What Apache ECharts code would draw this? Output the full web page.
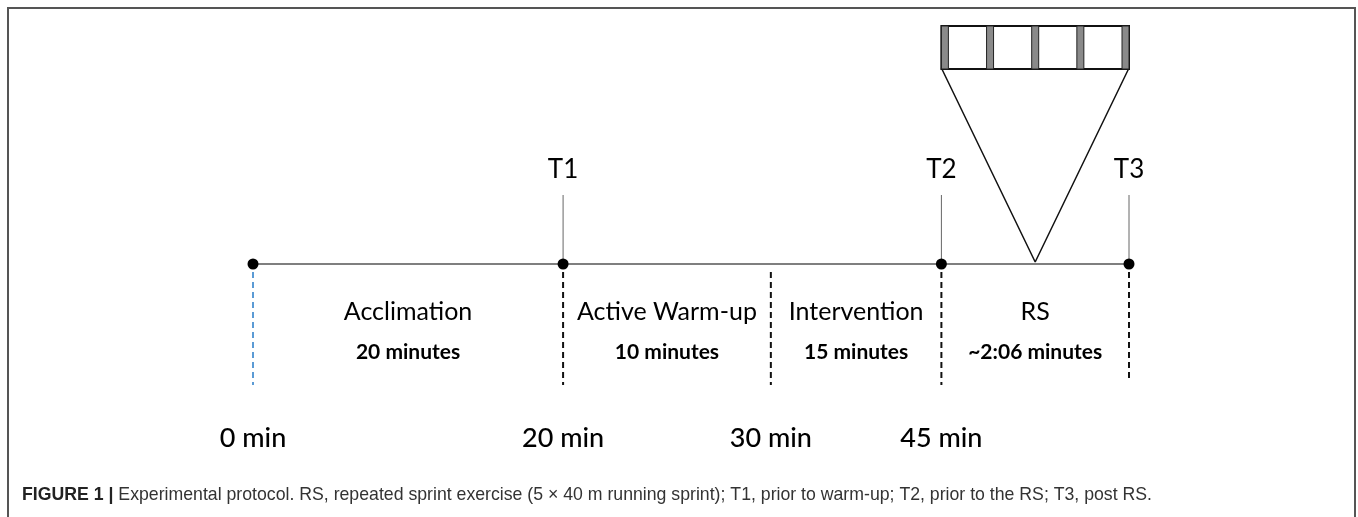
<!DOCTYPE html>
<html>
<head>
<meta charset="utf-8">
<script src="https://cdn.jsdelivr.net/npm/echarts@6/dist/echarts.min.js"></script>
<style>
  html, body { margin: 0; padding: 0; background: #fff; }
  #chart { width: 1358px; height: 517px; }
</style>
</head>
<body>
<div id="chart"></div>
<script>
// ---- data ----
const timeLabels = ['0 min', '20 min', '30 min', '45 min'];
const timeMinutes = [0, 20, 30, 45];
// position of each time mark along the (not-to-scale) schematic axis
const schematicPos = [0, 20, 33.4, 44.4];
const endPos = 56.5;                      // end of the repeated-sprint block (T3)
const phaseNames = ['Acclimation', 'Active Warm-up', 'Intervention', 'RS'];
const phaseDurations = ['20 minutes', '10 minutes', '15 minutes', '~2:06 minutes'];
const checkpoints = ['T1', 'T2', 'T3'];
const checkpointPos = [20, 44.4, 56.5];
const sprintCount = 5;
const captionBold = 'FIGURE 1 |';
const captionText = ' Experimental protocol. RS, repeated sprint exercise (5 \u00d7 40 m running sprint); T1, prior to warm-up; T2, prior to the RS; T3, post RS.';

// ---- layout levels on the schematic vertical axis ----
const L = {
  line: 0, tick: 69, tLabel: 94, dashTop: -8, dashBottom: -121,
  phase: -48, duration: -88, time: -174, boxBottom: 195, boxTop: 238
};

const allPos = schematicPos.concat([endPos]);
const phaseMid = allPos.slice(0, -1).map((p, i) => (p + allPos[i + 1]) / 2);

const font = 'Lato, "Open Sans", sans-serif';
const series = [];

// main timeline
series.push({
  type: 'line', data: [[allPos[0], L.line], [endPos, L.line]], symbol: 'none',
  lineStyle: { color: '#555', width: 1.5 }, silent: true, z: 2
});
// checkpoint ticks
checkpointPos.forEach(p => series.push({
  type: 'line', data: [[p, L.line], [p, L.tick]], symbol: 'none',
  lineStyle: { color: '#666', width: 1 }, silent: true
}));
// dashed boundaries
allPos.forEach((p, i) => series.push({
  type: 'line', data: [[p, L.dashTop], [p, i === allPos.length - 1 ? L.dashBottom + 7 : L.dashBottom]],
  symbol: 'none', silent: true,
  lineStyle: { color: i === 0 ? '#5b9bd5' : '#111', width: 2, type: [6, 4] }
}));
// dots
series.push({
  type: 'scatter', symbolSize: 11, itemStyle: { color: '#000', opacity: 1 }, z: 5, silent: true,
  data: [schematicPos[0], schematicPos[1], schematicPos[3], endPos].map(p => [p, L.line])
});
// zoom triangle
series.push({
  type: 'line', symbol: 'none', silent: true, lineStyle: { color: '#111', width: 1.5 },
  data: [[schematicPos[3], L.boxBottom + 1], [phaseMid[3], L.line + 2], [endPos, L.boxBottom + 1]]
});
// sprint block
series.push({
  type: 'custom', silent: true, z: 4,
  data: [[schematicPos[3], endPos, sprintCount]],
  renderItem: function (params, api) {
    const a = api.coord([api.value(0), L.boxTop]);
    const b = api.coord([api.value(1), L.boxBottom]);
    const n = api.value(2);
    const w = b[0] - a[0], h = b[1] - a[1], bw = 7;
    const children = [{
      type: 'rect', shape: { x: a[0], y: a[1], width: w, height: h },
      style: { fill: '#fff', stroke: '#111', lineWidth: 2 }
    }];
    for (let k = 0; k < n; k++) {
      children.push({
        type: 'rect', shape: { x: a[0] + k * (w - bw) / (n - 1), y: a[1], width: bw, height: h },
        style: { fill: '#8a8a8a', stroke: '#222', lineWidth: 1 }
      });
    }
    return { type: 'group', children: children };
  }
});
// text helpers
function textSeries(items, style) {
  return {
    type: 'scatter', symbolSize: 0, silent: true, z: 6,
    itemStyle: { opacity: 1 },
    data: items.map(it => ({ value: it.v, name: it.t })),
    label: Object.assign({
      show: true, position: 'inside', formatter: '{b}', color: '#000', fontFamily: font
    }, style)
  };
}
series.push(textSeries(checkpoints.map((t, i) => ({ t: t, v: [checkpointPos[i], L.tLabel] })), { fontSize: 26 }));
series.push(textSeries(phaseNames.map((t, i) => ({ t: t, v: [phaseMid[i], L.phase] })), { fontSize: 25 }));
series.push(textSeries(phaseDurations.map((t, i) => ({ t: t, v: [phaseMid[i], L.duration] })), { fontSize: 21, fontWeight: 'bold' }));
series.push(textSeries(timeLabels.map((t, i) => ({ t: t, v: [schematicPos[i], L.time] })), { fontSize: 27, fontWeight: 500 }));

const chart = echarts.init(document.getElementById('chart'), null, { renderer: 'canvas' });
chart.setOption({
  animation: false,
  backgroundColor: '#fff',
  grid: { left: 253, right: 229, top: 0, bottom: 0 },
  xAxis: { type: 'value', min: 0, max: endPos, show: false },
  yAxis: { type: 'value', min: -253, max: 264, show: false },
  title: {
    left: 17, top: 481,
    text: '{b|' + captionBold + '}{r|' + captionText + '}',
    textStyle: {
      fontWeight: 'normal',
      rich: {
        b: { fontFamily: '"Liberation Sans", Arial, sans-serif', fontWeight: 'bold', fontSize: 17.7, color: '#222' },
        r: { fontFamily: '"Liberation Sans", Arial, sans-serif', fontWeight: 'normal', fontSize: 17.7, color: '#333' }
      }
    }
  },
  graphic: [{
    type: 'rect', silent: true, z: 0,
    shape: { x: 8, y: 8, width: 1347, height: 530 },
    style: { fill: 'none', stroke: '#555', lineWidth: 2 }
  }],
  series: series
});
</script>
</body>
</html>
